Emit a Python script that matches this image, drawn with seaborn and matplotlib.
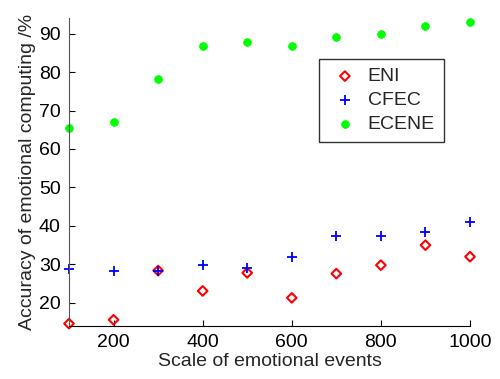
import matplotlib
matplotlib.use("Agg")
import matplotlib.pyplot as plt
import seaborn as sns
import pandas as pd

scale = [100, 200, 300, 400, 500, 600, 700, 800, 900, 1000]
eni = [14.6, 15.6, 28.4, 23.1, 27.8, 21.3, 27.6, 29.8, 35.0, 32.0]
cfec = [28.8, 28.4, 28.4, 29.8, 29.1, 31.8, 37.5, 37.5, 38.5, 41.0]
ecene = [65.5, 66.9, 78.1, 86.9, 87.8, 86.9, 89.0, 90.0, 91.9, 92.9]
series_names = ["ENI", "CFEC", "ECENE"]
xticks = [200, 400, 600, 800, 1000]
yticks = [20, 30, 40, 50, 60, 70, 80, 90]

rows = []
for name, vals in zip(series_names, [eni, cfec, ecene]):
    for x, y in zip(scale, vals):
        rows.append({"scale": x, "acc": y, "method": name})
df = pd.DataFrame(rows)

sns.set_style("white")
plt.rcParams["font.family"] = ["Liberation Sans", "DejaVu Sans"]

fig = plt.figure(figsize=(5.0, 3.79), dpi=100)
ax = fig.add_axes([0.138, 0.14, 0.802, 0.812])

styles = {
    "ENI": dict(marker="D", s=24, facecolors="none", edgecolors="#ff0000", linewidths=1.5),
    "CFEC": dict(marker="+", s=42, color="#0000ff", linewidths=1.3),
    "ECENE": dict(marker="o", s=32, color="#00ff00", edgecolors="#00ff00", linewidths=0.5),
}
for name in series_names:
    sub = df[df["method"] == name]
    sns.scatterplot(data=sub, x="scale", y="acc", ax=ax, label=name, clip_on=False, **styles[name])

ax.set_xlim(100, 1000)
ax.set_ylim(14, 94)
ax.set_xticks(xticks)
ax.set_yticks(yticks)
ax.tick_params(direction="in", length=4, width=0.8, labelsize=14, colors="black",
               bottom=True, left=True, pad=6)
for side in ["top", "right"]:
    ax.spines[side].set_visible(False)
for side in ["left", "bottom"]:
    ax.spines[side].set_color("black")
    ax.spines[side].set_linewidth(0.8)
ax.spines["left"].set_color("#555555")
ax.set_xlabel("Scale of emotional events", fontsize=14, labelpad=1)
ax.set_ylabel("Accuracy of emotional computing /%", fontsize=14, labelpad=2)

leg = ax.legend(loc="upper left", bbox_to_anchor=(0.623, 0.868), fontsize=14,
                frameon=True, fancybox=False, edgecolor="black", handletextpad=0.29,
                borderpad=0.45, labelspacing=0.33, handlelength=1.78, borderaxespad=0)
leg.get_frame().set_linewidth(1.0)

fig.savefig("out.png", dpi=100)
